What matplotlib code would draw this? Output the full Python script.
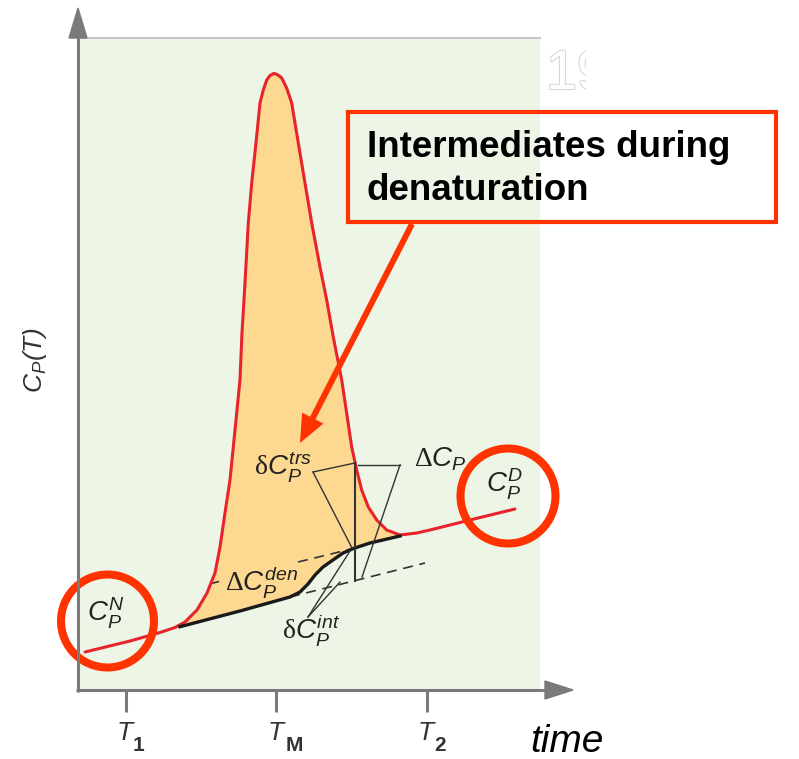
import numpy as np
import matplotlib
matplotlib.use("Agg")
import matplotlib.pyplot as plt
from matplotlib.patches import Circle, Rectangle, FancyArrow, Polygon
import matplotlib.patheffects as pe
import matplotlib.transforms as mtransforms

plt.rcParams['font.family'] = ['Liberation Sans', 'DejaVu Sans']
plt.rcParams['mathtext.fontset'] = 'custom'
plt.rcParams['mathtext.it'] = 'Liberation Sans:italic'
plt.rcParams['mathtext.rm'] = 'Liberation Serif'
plt.rcParams['mathtext.sf'] = 'Liberation Sans'
plt.rcParams['mathtext.bf'] = 'Liberation Sans:bold'

# ---------------- data (time units, Cp units) ----------------
# measured heat capacity curve (red)
curve_t = [11.83, 20.80, 26.78, 29.77, 31.76, 34.15, 36.15, 37.74, 38.74, 39.73,
           40.73, 41.73, 42.72, 43.12, 43.72, 44.38, 45.06, 45.91, 46.71, 47.37,
           48.05, 48.71, 49.50, 50.30, 51.04, 52.03, 53.03, 54.35, 55.68, 57.02,
           58.67, 60.01, 61.32, 63.00, 63.99, 64.99, 65.99, 66.98, 68.30, 69.98,
           71.97, 74.62, 77.95, 80.60, 88.57, 97.54]
curve_cp = [3.80, 4.90, 5.75, 6.25, 6.80, 8.00, 9.70, 11.70, 14.30, 17.70,
            21.00, 26.00, 31.00, 35.70, 40.70, 46.70, 50.70, 54.70, 58.70, 60.00,
            61.00, 61.45, 61.67, 61.50, 61.20, 60.20, 58.70, 54.70, 50.70, 46.70,
            42.30, 39.00, 35.30, 31.00, 27.70, 24.30, 22.00, 20.00, 18.30, 17.00,
            16.00, 15.50, 15.70, 16.00, 17.00, 18.10]
# progress baseline (black)
base_t = [30.76, 42.72, 52.69, 54.69, 56.28, 57.68, 59.27, 61.26, 63.26, 65.32, 68.64, 74.62]
base_cp = [6.33, 7.90, 9.30, 9.80, 10.60, 11.50, 12.30, 13.00, 13.70, 14.15, 14.70, 15.40]
# extrapolated denatured baseline (dashed, interrupted by its label)
den_ext_t = [[36.94, 38.54], [54.29, 65.32]]
den_ext_cp = [[10.65, 10.85], [12.80, 14.15]]
# extrapolated native baseline (dashed)
nat_ext_t = [52.69, 79.60]
nat_ext_cp = [9.30, 12.70]
# vertical marker at the transition
vert_t = [65.65, 65.65]
vert_cp = [22.70, 10.90]

tick_pos = [20, 50, 80]
tick_main = ['T', 'T', 'T']
tick_sub = ['1', 'M', '2']

# ---------------- figure ----------------
W, H = 799, 759
fig = plt.figure(figsize=(W / 100, H / 100), dpi=100)
fig.patch.set_facecolor('white')

ax = fig.add_axes([78 / W, (H - 690) / H, 462 / W, 652 / H])
ax.set_facecolor('#edf5e6')
ax.set_xlim(10.43, 102.53)
ax.set_ylim(0, 65.2)
for s in ['left', 'right', 'bottom']:
    ax.spines[s].set_visible(False)
ax.spines['top'].set_color('#c8c8c8')
ax.spines['top'].set_linewidth(1.5)
ax.set_yticks([])
ax.set_xticks(tick_pos)
ax.set_xticklabels([''] * len(tick_pos))
ax.tick_params(axis='x', length=15.8, width=2.2, color='#7a7a7a')

ct = np.array(curve_t)
cc = np.array(curve_cp)
bt = np.array(base_t)
bc = np.array(base_cp)
m = (ct >= bt[0]) & (ct <= bt[-1])
ax.fill(np.concatenate([ct[m], bt[::-1]]), np.concatenate([cc[m], bc[::-1]]),
        color='#fdd890', lw=0, zorder=1)
ax.plot(ct, cc, color='#e8232b', lw=2.2, zorder=3, solid_joinstyle='round',
        solid_capstyle='round')
ax.plot(bt, bc, color='#1a1a1a', lw=2.4, zorder=4, solid_joinstyle='round')
for xs, ys in zip(den_ext_t, den_ext_cp):
    ax.plot(xs, ys, color='#333333', lw=1.2, dashes=(6, 4), zorder=2)
ax.plot(nat_ext_t, nat_ext_cp, color='#333333', lw=1.2, dashes=(6, 4), zorder=2)
ax.plot(vert_t, vert_cp, color='#333333', lw=1.5, zorder=5)

# ---------------- overlay (pixel space annotations) ----------------
ov = fig.add_axes([0, 0, 1, 1], zorder=5)
ov.set_xlim(0, W)
ov.set_ylim(H, 0)
ov.axis('off')
ov.patch.set_alpha(0)

# tick labels: x from the data axis, y in pixels
blend = mtransforms.blended_transform_factory(ax.transData, ov.transData)
for pos, mt, sb in zip(tick_pos, tick_main, tick_sub):
    ov.text(pos, 740, mt, fontsize=19, fontstyle='italic', color='#333333',
            ha='left', va='baseline',
            transform=mtransforms.offset_copy(blend, fig=fig, x=-9, y=0, units='dots'))
    dx = 9 if sb == 'M' else 7
    ov.text(pos, 751, sb, fontsize=15, fontweight='bold',
            color='#333333', ha='left', va='baseline',
            transform=mtransforms.offset_copy(blend, fig=fig, x=dx, y=0, units='dots'))

axis_col = '#7a7a7a'
ov.plot([78, 78], [692, 30], color=axis_col, lw=2.2, solid_capstyle='butt')
ov.add_patch(Polygon([[69, 38], [87, 38], [78, 8]], closed=True, color=axis_col))
ov.plot([76, 550], [690, 690], color=axis_col, lw=2.2, solid_capstyle='butt')
ov.add_patch(Polygon([[545, 681], [545, 699], [573, 690]], closed=True, color=axis_col))

# leader lines
lc = '#333333'
for (x0, y0), (x1, y1) in [((313, 472), (355, 463)), ((313, 472), (352, 548)),
                           ((400, 465), (358, 465)), ((400, 465), (362, 577)),
                           ((308, 617), (350, 551)), ((308, 617), (340, 582))]:
    ov.plot([x0, x1], [y0, y1], color=lc, lw=1.0)

tc = '#222222'
lab_fs = 20
ov.text(283, 467, r'$\mathrm{\delta}C_P^{trs}$', fontsize=lab_fs, color=tc, ha='center', va='center')
ov.text(440, 459, r'$\mathrm{\Delta}C_P$', fontsize=lab_fs, color=tc, ha='center', va='center')
ov.text(505, 484, r'$C_P^D$', fontsize=lab_fs, color=tc, ha='center', va='center')
ov.text(106, 613, r'$C_P^N$', fontsize=lab_fs, color=tc, ha='center', va='center')
ov.text(262, 582, r'$\mathrm{\Delta}C_P^{den}$', fontsize=lab_fs, color=tc, ha='center', va='center')
ov.text(311, 630, r'$\mathrm{\delta}C_P^{int}$', fontsize=lab_fs, color=tc, ha='center', va='center')

ov.text(35, 360, r'$C_P$(T)', fontsize=19, color='#333333', rotation=90,
        ha='center', va='center', fontstyle='italic')
ov.text(530, 752, 'time', fontsize=28, fontstyle='italic', color='black',
        ha='left', va='baseline')

# highlight circles
hc = '#ff3300'
ov.add_patch(Circle((107.5, 621), 46.5, fill=False, ec=hc, lw=5.8))
ov.add_patch(Circle((508, 496), 47.5, fill=False, ec=hc, lw=5.8))

# faint page number fragment, cut off on the right
ov.text(546, 75, '19', fontsize=40, color='white', ha='left', va='center', zorder=1,
        path_effects=[pe.withStroke(linewidth=1.5, foreground='#d6d6d6')])
ov.add_patch(Rectangle((586, 40), 213, 70, color='white', lw=0, zorder=2))

# callout box and arrow
ov.add_patch(Rectangle((348, 112), 428, 110, fill=False, ec=hc, lw=3, zorder=3))
ov.text(367, 157, 'Intermediates during', fontsize=26.5, fontweight='bold',
        color='black', ha='left', va='baseline', zorder=3)
ov.text(367, 200, 'denaturation', fontsize=26.5, fontweight='bold',
        color='black', ha='left', va='baseline', zorder=3)
ov.add_patch(FancyArrow(412, 224, -112, 219, width=6, head_width=24, head_length=28,
                        length_includes_head=True, color=hc, lw=0, zorder=3))

fig.savefig('out.png', dpi=100)
